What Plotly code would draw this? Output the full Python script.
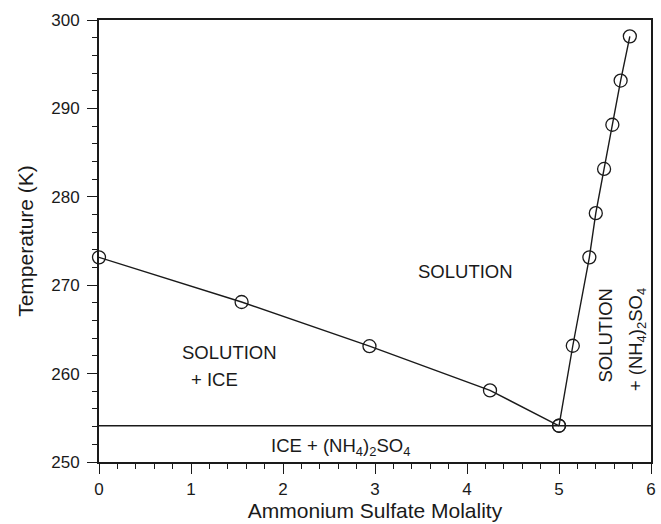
import plotly.graph_objects as go

# Ice liquidus: freezing point depression of aqueous ammonium sulfate
ice_molality = [0.0, 1.55, 2.94, 4.25, 5.0]
ice_temp_k = [273.15, 268.1, 263.1, 258.1, 254.1]

# Solubility curve of (NH4)2SO4
salt_molality = [5.0, 5.15, 5.33, 5.40, 5.49, 5.58, 5.67, 5.77]
salt_temp_k = [254.1, 263.15, 273.15, 278.15, 283.15, 288.15, 293.15, 298.15]

# Eutectic temperature
eutectic_temp_k = 254.1

x_ticks = [0, 1, 2, 3, 4, 5, 6]
y_ticks = [250, 260, 270, 280, 290, 300]

FONT = "Liberation Sans, Arial, Helvetica, sans-serif"
INK = "#1a1a1a"

fig = go.Figure()

marker_style = dict(symbol="circle-open", size=13, color=INK, line=dict(width=1.3, color=INK))

fig.add_trace(go.Scatter(x=ice_molality, y=ice_temp_k, mode="lines+markers",
                         line=dict(color=INK, width=1.4), marker=marker_style,
                         showlegend=False, cliponaxis=False))
fig.add_trace(go.Scatter(x=salt_molality, y=salt_temp_k, mode="lines+markers",
                         line=dict(color=INK, width=1.4), marker=marker_style,
                         showlegend=False, cliponaxis=False))

fig.add_hline(y=eutectic_temp_k, line=dict(color=INK, width=1.4), layer="below")

ann_font = dict(family=FONT, size=18.5, color=INK)
annotations = [
    dict(x=3.98, y=271.6, text="SOLUTION"),
    dict(x=1.42, y=262.4, text="SOLUTION"),
    dict(x=1.25, y=259.3, text="+ ICE"),
    dict(x=2.62, y=251.7, text="ICE + (NH<sub>4</sub>)<sub>2</sub>SO<sub>4</sub>"),
    dict(x=5.51, y=264.4, text="SOLUTION", textangle=-90),
    dict(x=5.85, y=263.8, text="+ (NH<sub>4</sub>)<sub>2</sub>SO<sub>4</sub>", textangle=-90),
]
for a in annotations:
    fig.add_annotation(xref="x", yref="y", showarrow=False, font=ann_font, **a)

axis_common = dict(
    showline=True, linecolor=INK, linewidth=1.8, mirror=True,
    showgrid=False, zeroline=False,
    ticks="outside", ticklen=10, tickwidth=1.2, tickcolor=INK,
    tickfont=dict(family=FONT, size=17, color=INK),
    automargin=False,
)

fig.update_xaxes(range=[0, 6], tickvals=x_ticks, ticktext=[str(v) for v in x_ticks],
                 minor=dict(dtick=0.2, ticks="outside", ticklen=5, tickcolor=INK, tickwidth=1),
                 ticklabelstandoff=1,
                 title=dict(text="Ammonium Sulfate Molality", font=dict(family=FONT, size=21, color=INK),
                            standoff=4),
                 **axis_common)
fig.update_yaxes(range=[250, 300], tickvals=y_ticks, ticktext=[str(v) for v in y_ticks],
                 minor=dict(dtick=2, ticks="outside", ticklen=5, tickcolor=INK, tickwidth=1),
                 ticklabelstandoff=4,
                 title=dict(text="Temperature (K)", font=dict(family=FONT, size=21, color=INK),
                            standoff=12),
                 **axis_common)

fig.update_layout(
    width=661, height=524,
    margin=dict(l=99, r=10, t=20, b=62),
    plot_bgcolor="white", paper_bgcolor="white",
    font=dict(family=FONT, color=INK),
)

fig.write_html("out.html")
